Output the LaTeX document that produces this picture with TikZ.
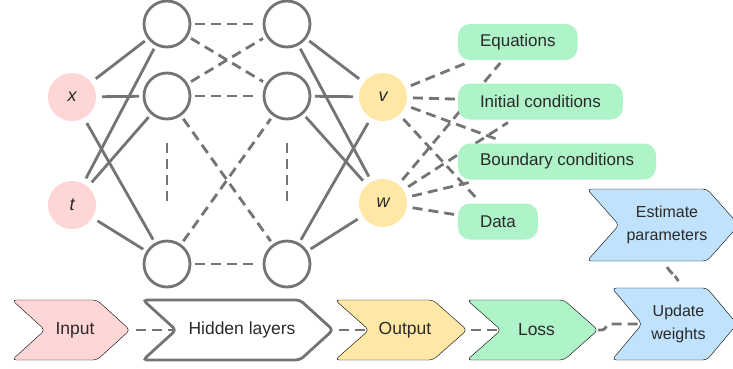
\documentclass[tikz,border=0pt]{standalone}
\usepackage{fontspec}
\setmainfont{Liberation Sans}
\usetikzlibrary{calc,backgrounds}
\definecolor{inpink}{HTML}{FFD6D6}
\definecolor{outyel}{HTML}{FFE7A6}
\definecolor{lossgrn}{HTML}{AFF3C8}
\definecolor{updblue}{HTML}{C0E2FC}
\definecolor{edgegray}{HTML}{747474}
\definecolor{txt}{HTML}{2A2A2A}
% stage arrow: name, left, right, mid y, half height, depth, path style, text style, text
\newcommand{\chevron}[9]{%
  \draw[rounded corners=4pt, #7] (#2,#4-#5) -- (#3,#4-#5) -- (#3+#6,#4) -- (#3,#4+#5)
    -- (#2,#4+#5) -- (#2+#6,#4) -- cycle;
  \node[#8] (#1) at ({(#2+#3+#6)/2+4},#4) {#9};
  \coordinate (#1-tail) at (#2+#6,#4);
  \coordinate (#1-tip) at (#3+#6,#4);
  \coordinate (#1-n) at ({(#2+#3+#6)/2+4},#4-#5);
  \coordinate (#1-s) at ({(#2+#3+#6)/2+4},#4+#5);
}

\begin{document}
\begin{tikzpicture}[x=1pt, y=-1pt,
  neuron/.style={circle, draw=edgegray, line width=2.8pt, minimum size=46pt,
    inner sep=0pt, outer sep=5pt, fill=white},
  innode/.style={circle, fill=inpink, minimum size=48pt, inner sep=0pt, outer sep=6pt,
    font=\fontsize{18}{20}\selectfont\itshape, text=txt},
  outnode/.style={innode, fill=outyel},
  target/.style={rounded corners=12pt, fill=lossgrn, minimum height=36pt, inner xsep=22pt,
    anchor=west, outer sep=3pt, font=\fontsize{17}{20}\selectfont, text=txt},
  net/.style={draw=edgegray, line width=2.8pt},
  link/.style={net, dash pattern=on 10pt off 6pt},
  lbl/.style={font=\fontsize{17.5}{20}\selectfont, text=txt, align=center},
  smalllbl/.style={font=\fontsize{16}{23}\selectfont, text=txt, align=center}
]
\useasboundingbox (0,0) rectangle (733,368);

% network
\node[innode] (xin) at (72,97) {x};
\node[innode] (tin) at (72,205) {t};
\foreach \r/\y in {1/24, 2/96, 3/264} {
  \node[neuron] (a\r) at (167,\y) {};
  \node[neuron] (b\r) at (287,\y) {};
}
\node[outnode] (vout) at (383,97) {v};
\node[outnode] (wout) at (383,203) {w};

\node[target] (eqs) at (455,42) {Equations};
\node[target] (ini) at (455,101.5) {Initial conditions};
\node[target] (bnd) at (455,161.5) {Boundary conditions};
\node[target] (dat) at (455,221.5) {Data};

\begin{scope}[on background layer]
\fill[white] (0,0) rectangle (733,368);
\foreach \i in {xin,tin} \foreach \j in {1,2,3} \draw[net] (\i) -- (a\j);
\foreach \i/\j in {1/1,1/2,2/1,2/2,2/3,3/2,3/3} \draw[link] (a\i) -- (b\j);
\foreach \j in {1,2,3} \foreach \o in {vout,wout} \draw[net] (b\j) -- (\o);
\foreach \o in {vout,wout} \foreach \g in {eqs,ini,bnd,dat} \draw[link] (\o) -- (\g);
\end{scope}
\draw[link] ($(a2)!0.28!(a3)$) -- ($(a2)!0.65!(a3)$);
\draw[link] ($(b2)!0.28!(b3)$) -- ($(b2)!0.65!(b3)$);

% stages
\chevron{inp}{12}{97}{330}{30}{33}{fill=inpink}{lbl}{Input}
\chevron{hid}{143}{300}{330}{30}{33}{fill=white, draw=edgegray, line width=2.8pt}{lbl}{Hidden layers}
\chevron{outp}{335}{433}{330}{30}{34}{fill=outyel}{lbl}{Output}
\chevron{loss}{467}{564}{330}{30}{34}{fill=lossgrn}{lbl}{Loss}
\chevron{upd}{612}{707}{324}{36}{30}{fill=updblue}{smalllbl}{Update\\weights}
\chevron{est}{587}{707}{225}{36}{32}{fill=updblue}{smalllbl}{Estimate\\parameters}

\draw[link, shorten <=6pt, shorten >=2pt] (inp-tip) -- (hid-tail);
\draw[link, shorten <=6pt, shorten >=2pt] (hid-tip) -- (outp-tail);
\draw[link, shorten <=4pt, shorten >=2pt] (outp-tip) -- (loss-tail);
\draw[link] (loss-tip) -- ++(4,0) to[out=0,in=180] ++(8,-6) -- (upd-tail);
\draw[link, dash pattern=on 9pt off 3pt] ([yshift=-6pt]est-s) to[out=-60,in=120] ([yshift=7pt]upd-n);
\end{tikzpicture}
\end{document}
